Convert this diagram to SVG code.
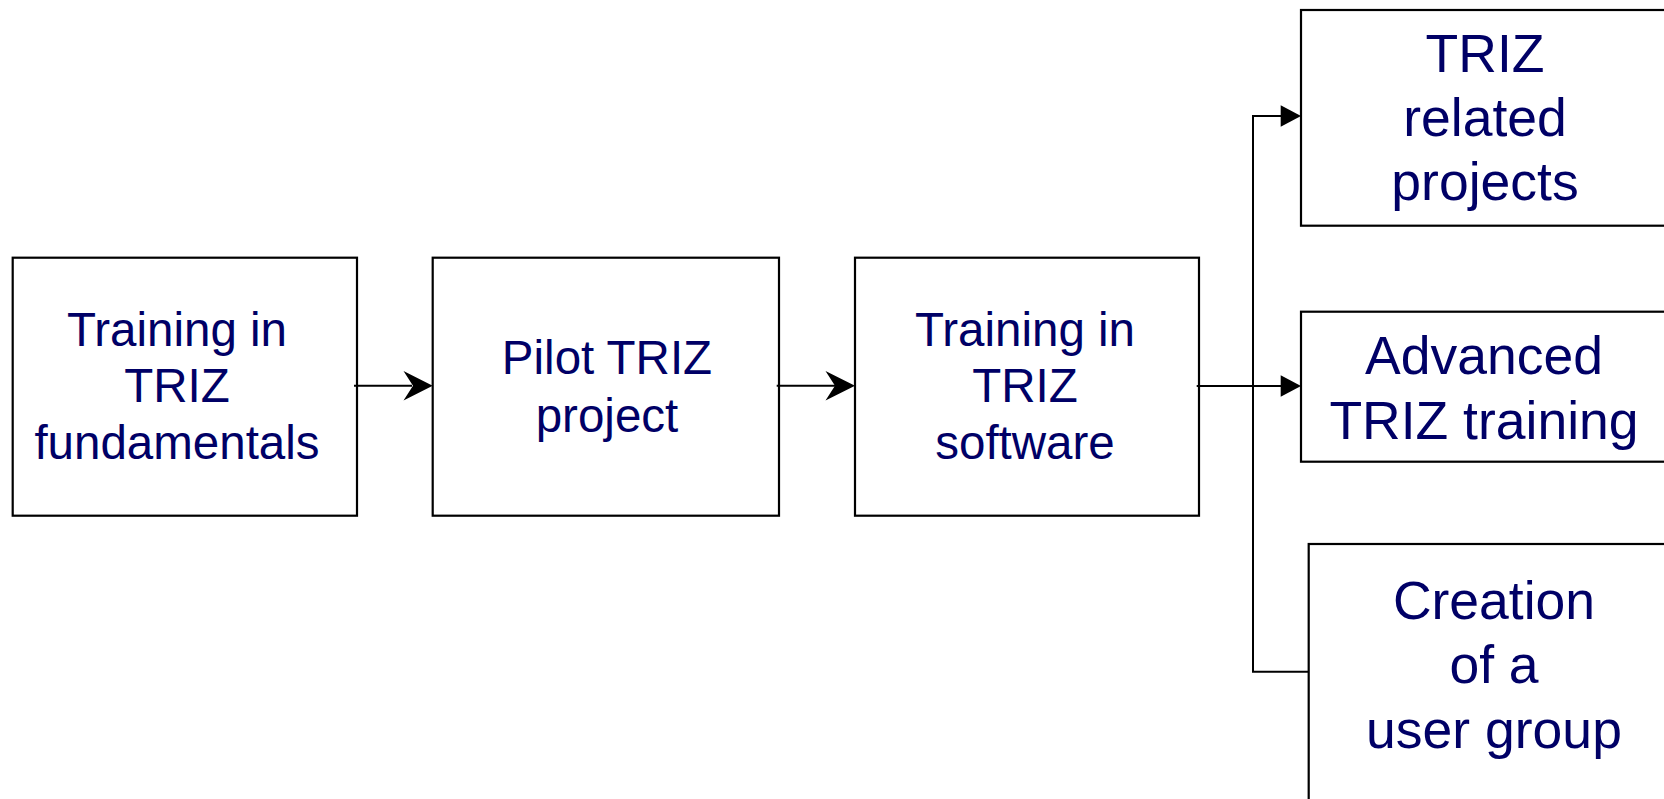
<svg xmlns="http://www.w3.org/2000/svg" width="1664" height="799" viewBox="0 0 1664 799">
<style>
.box{fill:#ffffff;stroke:#000000;stroke-width:2.2}
.t{font-family:"Liberation Sans",Arial,sans-serif;fill:#000066;text-anchor:middle}
.s{font-size:47.5px}
.b{font-size:53.5px}
.c{fill:none;stroke:#000000;stroke-width:2}
.h{fill:#000000;stroke:none}
</style>
<rect width="1664" height="799" fill="#ffffff"/>
<g id="n1">
<rect class="box" x="12.7" y="257.7" width="344.3" height="258"/>
<text class="t s" x="177" y="346">Training in</text>
<text class="t s" x="177" y="402">TRIZ</text>
<text class="t s" x="177" y="459">fundamentals</text>
</g>
<g id="n2">
<rect class="box" x="432.7" y="257.7" width="346.3" height="258"/>
<text class="t s" x="607" y="374">Pilot TRIZ</text>
<text class="t s" x="607" y="432">project</text>
</g>
<g id="n3">
<rect class="box" x="855" y="257.7" width="344" height="258"/>
<text class="t s" x="1025" y="346">Training in</text>
<text class="t s" x="1025" y="402">TRIZ</text>
<text class="t s" x="1025" y="459">software</text>
</g>
<g id="n4">
<rect class="box" x="1301" y="10" width="400" height="215.7"/>
<text class="t b" x="1485" y="72">TRIZ</text>
<text class="t b" x="1485" y="136">related</text>
<text class="t b" x="1485" y="200">projects</text>
</g>
<g id="n5">
<rect class="box" x="1301" y="311.7" width="400" height="150"/>
<text class="t b" x="1484" y="374">Advanced</text>
<text class="t b" x="1484" y="439">TRIZ training</text>
</g>
<g id="n6">
<rect class="box" x="1308.7" y="544" width="400" height="300"/>
<text class="t b" x="1494" y="619">Creation</text>
<text class="t b" x="1494" y="683">of a</text>
<text class="t b" x="1494" y="748">user group</text>
</g>
<g id="connectors">
<line class="c" x1="354" y1="385.7" x2="412" y2="385.7"/>
<path class="h" d="M432.7,385.7 L403.5,371 L413,385.7 L403.5,400.4 Z"/>
<line class="c" x1="776.7" y1="385.7" x2="835" y2="385.7"/>
<path class="h" d="M855,385.7 L825.5,371 L835,385.7 L825.5,400.4 Z"/>
<line class="c" x1="1196.7" y1="386" x2="1282" y2="386"/>
<path class="h" d="M1301,386 L1280.7,375.3 L1280.7,396.7 Z"/>
<polyline class="c" points="1308.7,671.7 1253,671.7 1253,116 1282,116"/>
<path class="h" d="M1301,116 L1280.7,105.3 L1280.7,126.7 Z"/>
</g>
</svg>
